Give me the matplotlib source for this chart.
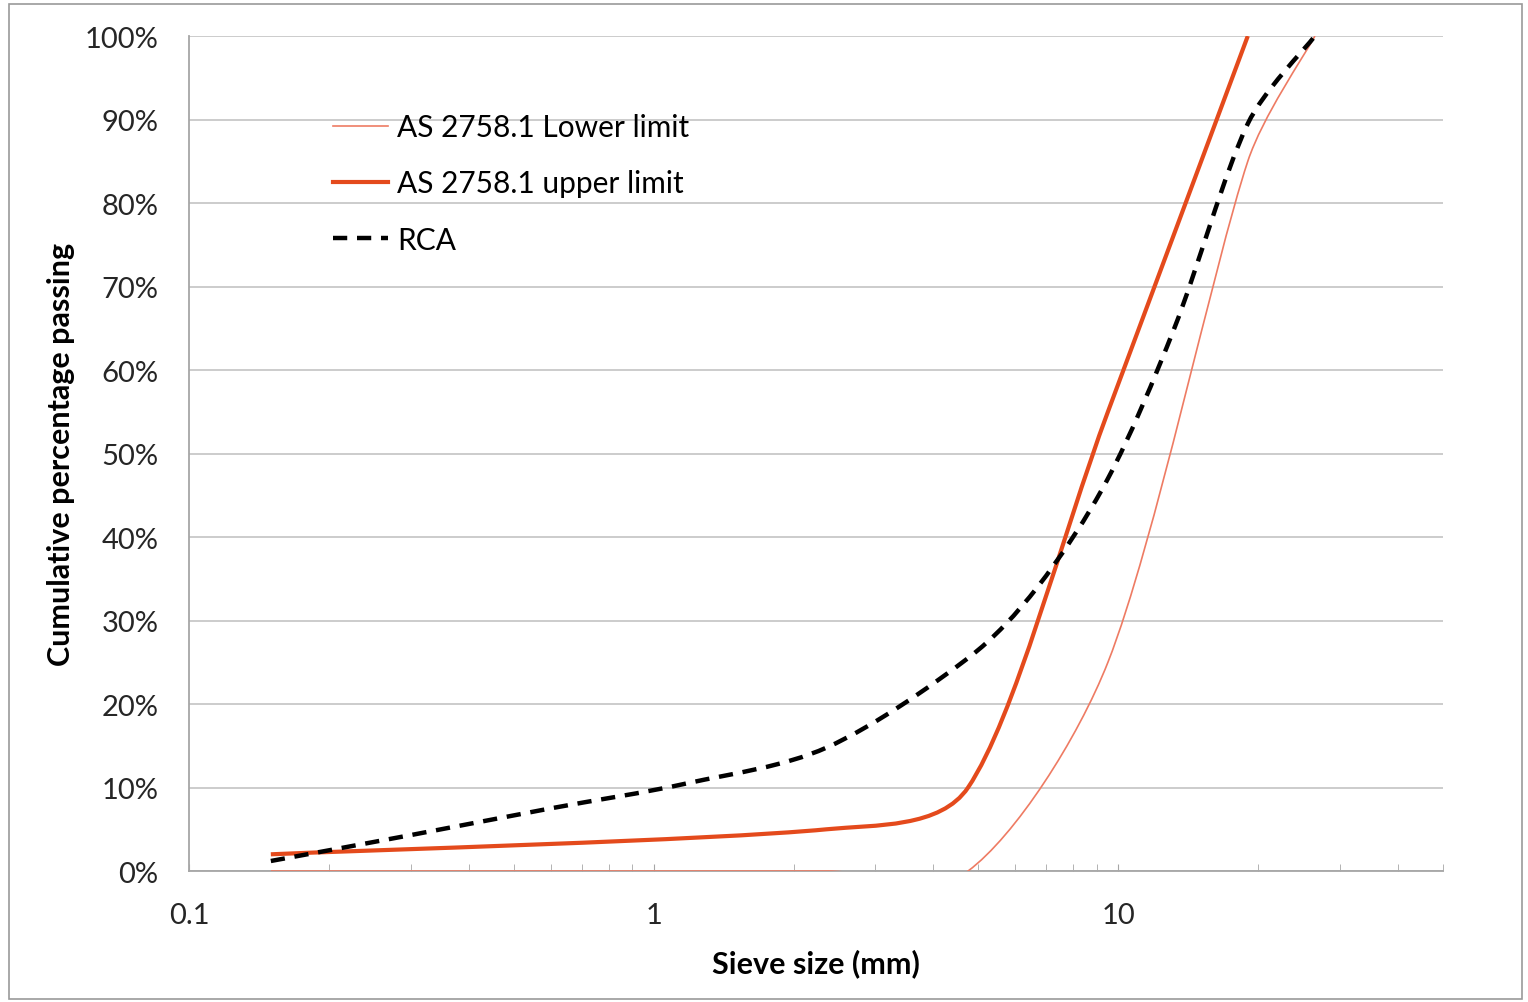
import numpy as np
import matplotlib
matplotlib.use('Agg')
import matplotlib.pyplot as plt
from matplotlib.path import Path
from matplotlib.patches import PathPatch, Rectangle
from matplotlib.lines import Line2D
from matplotlib.ticker import PercentFormatter, FixedLocator, LogLocator, NullFormatter

plt.rcParams['font.family'] = ['Lato', 'DejaVu Sans']

# sieve sizes (mm) and cumulative % passing
lower_sieve = [0.15, 2.36, 4.75, 9.5, 19, 26.5]
lower_pass = [0, 0, 0, 25, 85, 100]

upper_sieve = [0.15, 2.36, 4.75, 9.5, 19]
upper_pass = [2, 5, 10, 55, 100]

rca_sieve = [0.15, 0.3, 0.6, 1.18, 2.36, 4.75, 6.7, 9.5, 13.2, 19, 26.5]
rca_pass = [1.2, 4.3, 7.5, 10.5, 14.8, 25.5, 34, 47, 65, 89.5, 100]

x_ticks = [0.1, 1, 10]
x_ticklabels = ['0.1', '1', '10']

# screen-ish scale used for the smoothing (px per decade / px per %)
SX, SY = 464.0, 8.35


def smooth_path(xs, ys):
    # excel-like smoothed line: cubic beziers, catmull-rom tangents,
    # control arm capped at 1/3 of the segment so short flat parts don't dip
    u = np.log10(np.asarray(xs, float)) * SX
    v = np.asarray(ys, float) * SY
    P = np.column_stack([u, v])
    n = len(P)
    T = [P[min(i + 1, n - 1)] - P[max(i - 1, 0)] for i in range(n)]
    verts = [P[0]]
    codes = [Path.MOVETO]
    for i in range(n - 1):
        seg = np.hypot(*(P[i + 1] - P[i])) / 3.0
        a1 = min(np.hypot(*T[i]) / 6.0, seg)
        a2 = min(np.hypot(*T[i + 1]) / 6.0, seg)
        c1 = P[i] + T[i] / np.hypot(*T[i]) * a1
        c2 = P[i + 1] - T[i + 1] / np.hypot(*T[i + 1]) * a2
        verts += [c1, c2, P[i + 1]]
        codes += [Path.CURVE4] * 3
    verts = np.array(verts)
    data = np.column_stack([10 ** (verts[:, 0] / SX), verts[:, 1] / SY])
    return Path(data, codes)


fig = plt.figure(figsize=(15.28, 10.03), dpi=100)
ax = fig.add_axes([0.1237, 0.1306, 0.8207, 0.8325])
ax.set_xscale('log')
ax.set_xlim(0.1, 50)
ax.set_ylim(0, 100)

lower_col = '#EE7B63'
upper_col = '#E44A1C'
dash = (0, (3.2, 2.2))

ax.add_patch(PathPatch(smooth_path(lower_sieve, lower_pass), fill=False,
                       edgecolor=lower_col, lw=1.2, zorder=3))
ax.add_patch(PathPatch(smooth_path(upper_sieve, upper_pass), fill=False,
                       edgecolor=upper_col, lw=3.0, zorder=4))
ax.add_patch(PathPatch(smooth_path(rca_sieve, rca_pass), fill=False,
                       edgecolor='black', lw=3.2, linestyle=dash,
                       capstyle='butt', zorder=5))

ax.yaxis.set_major_locator(FixedLocator(np.arange(0, 101, 10)))
ax.yaxis.set_major_formatter(PercentFormatter(100, decimals=0))
ax.grid(axis='y', color='#C8C8C8', lw=1.3)
ax.set_axisbelow(True)

ax.xaxis.set_major_locator(FixedLocator(x_ticks))
ax.set_xticklabels(x_ticklabels)
ax.xaxis.set_minor_locator(LogLocator(base=10, subs=np.arange(2, 10)))
ax.xaxis.set_minor_formatter(NullFormatter())

for s in ['top', 'right']:
    ax.spines[s].set_visible(False)
for s in ['left', 'bottom']:
    ax.spines[s].set_color('#A6A6A6')
    ax.spines[s].set_linewidth(1.3)

ax.tick_params(axis='y', length=0, pad=22, labelsize=21, labelcolor='#262626')
ax.tick_params(axis='x', which='both', direction='in', length=5, color='#A6A6A6',
               labelsize=21, labelcolor='#262626', pad=22)

ax.set_xlabel('Sieve size (mm)', fontsize=22, fontweight='bold', labelpad=15)
ax.set_ylabel('Cumulative percentage passing', fontsize=22, fontweight='bold', labelpad=7)

handles = [Line2D([], [], color=lower_col, lw=1.2),
           Line2D([], [], color=upper_col, lw=3.0),
           Line2D([], [], color='black', lw=3.2, linestyle=dash)]
labels = ['AS 2758.1 Lower limit', 'AS 2758.1 upper limit', 'RCA']
ax.legend(handles, labels, loc='upper left', bbox_to_anchor=(0.105, 0.922),
          frameon=False, fontsize=21.5, handlelength=1.85, handletextpad=0.3,
          labelspacing=0.95, borderaxespad=0)

fig.patches.append(Rectangle((0.006, 0.003), 0.99, 0.992, transform=fig.transFigure,
                             fill=False, edgecolor='#9A9A9A', lw=1.2))

fig.savefig('out.png', dpi=100)
